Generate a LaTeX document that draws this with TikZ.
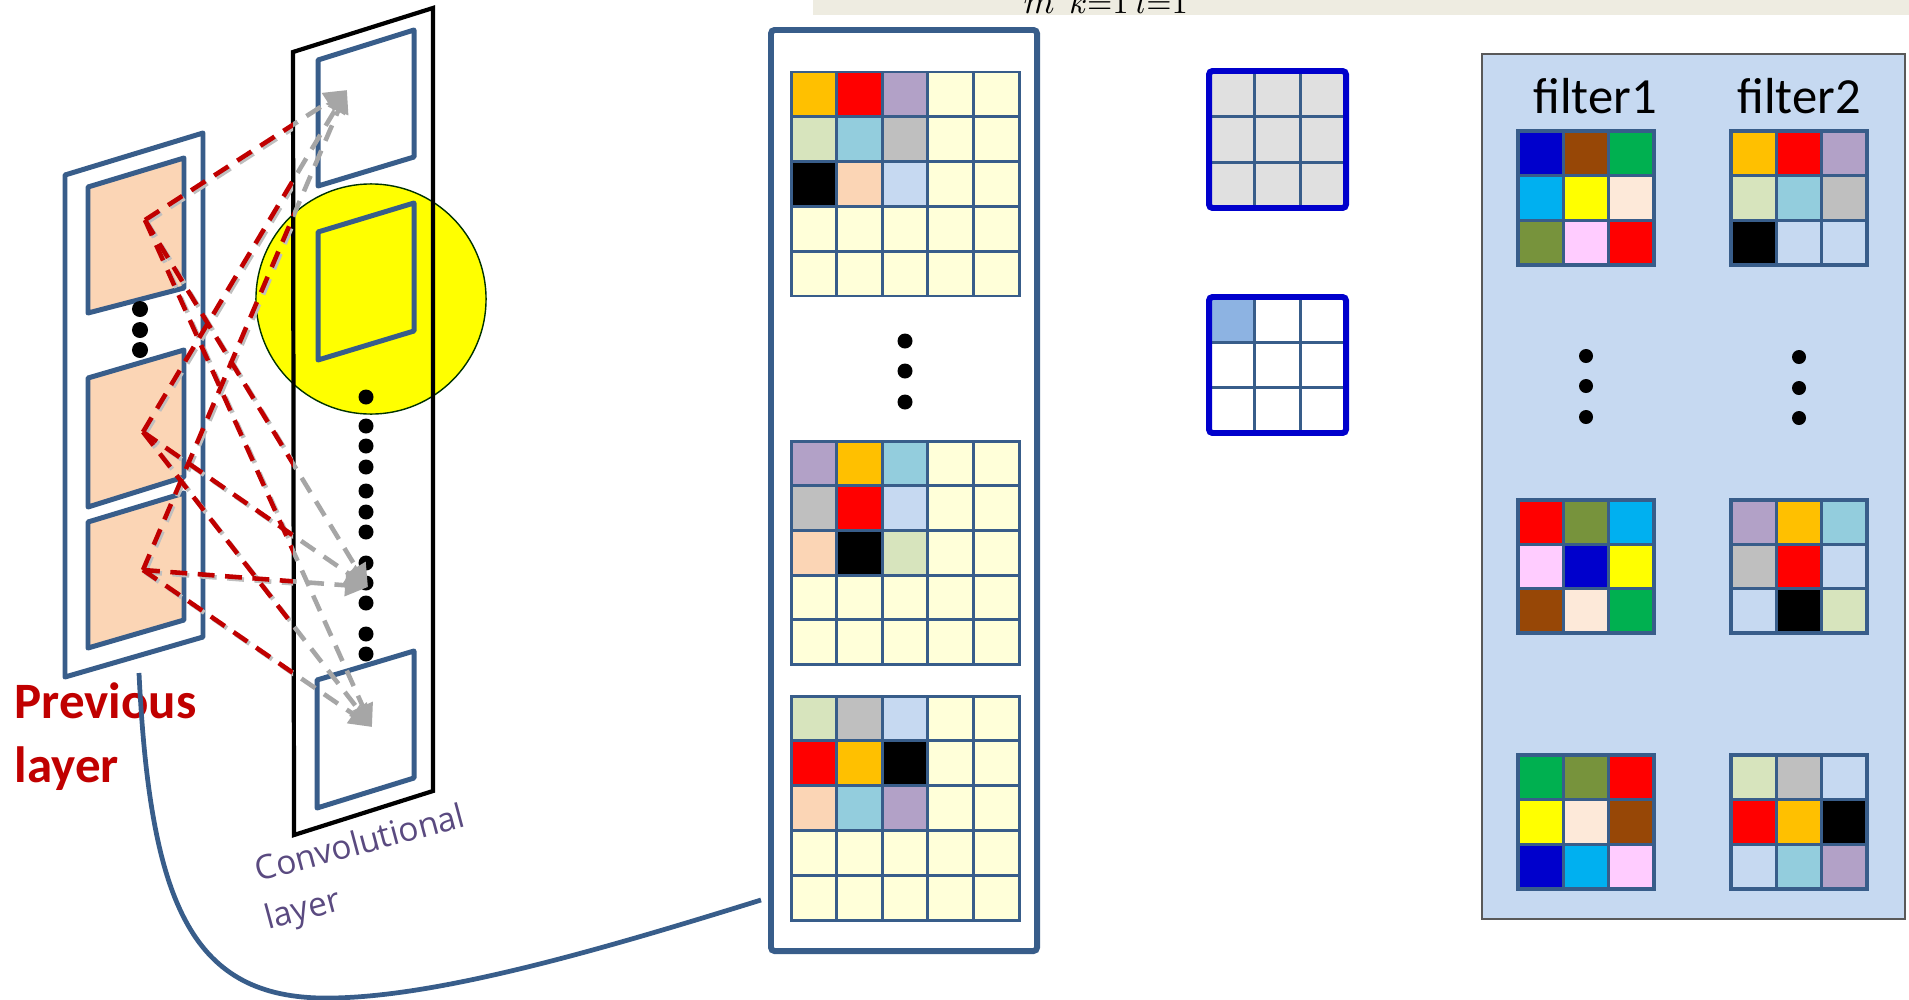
\documentclass[tikz,border=0pt]{standalone}
\usepackage{fontspec}
\newfontfamily\calibri{Carlito}
\newfontfamily\comicf{Open Sans}
\usetikzlibrary{arrows.meta}
\definecolor{fblue}{RGB}{56,93,138}
\definecolor{dred}{RGB}{192,0,0}
\definecolor{agrey}{RGB}{166,166,166}
\definecolor{cOr}{RGB}{255,192,0}
\definecolor{cRd}{RGB}{255,0,0}
\definecolor{cLv}{RGB}{178,161,199}
\definecolor{cLy}{RGB}{255,255,217}
\definecolor{cLg}{RGB}{215,228,189}
\definecolor{cLb}{RGB}{147,205,221}
\definecolor{cGy}{RGB}{191,191,191}
\definecolor{cBk}{RGB}{0,0,0}
\definecolor{cPc}{RGB}{251,213,181}
\definecolor{cSb}{RGB}{198,217,241}
\definecolor{cDb}{RGB}{0,0,204}
\definecolor{cBr}{RGB}{151,71,6}
\definecolor{cGn}{RGB}{0,176,80}
\definecolor{cCy}{RGB}{0,176,240}
\definecolor{cYl}{RGB}{255,255,0}
\definecolor{cFd}{RGB}{253,233,217}
\definecolor{cOl}{RGB}{119,147,60}
\definecolor{cPk}{RGB}{255,204,255}
\definecolor{cKb}{RGB}{141,179,226}
\definecolor{cKg}{RGB}{224,224,224}
\definecolor{cWh}{RGB}{255,255,255}
\definecolor{stripc}{RGB}{238,236,225}
\definecolor{purp}{RGB}{90,74,128}
% x0 y0 ncols nrows cellw cellh colours lineopts
\newcommand\mygrid[8]{%
  \foreach \gc [count=\gi from 0] in {#7} {
    \pgfmathtruncatemacro\gr{\gi/#3}
    \pgfmathtruncatemacro\gq{\gi-\gr*#3}
    \fill[\gc] ({#1+\gq*#5},{#2+\gr*#6}) rectangle ++(#5,#6);
  }
  \foreach \gk in {0,...,#3} \draw[#8] ({#1+\gk*#5},#2) -- ++(0,{#4*#6});
  \foreach \gk in {0,...,#4} \draw[#8] (#1,{#2+\gk*#6}) -- ++({#3*#5},0);
}
\tikzset{
  fb/.style={draw=fblue, line width=1.42pt, line join=round},
  redline/.style={draw=dred, line width=1.3pt, dash pattern=on 4.8pt off 3pt},
  redshadow/.style={draw=black!25, line width=1.3pt, dash pattern=on 4.8pt off 3pt},
  greyline/.style={draw=agrey, line width=1.3pt, dash pattern=on 4.8pt off 3pt, -{Triangle[length=6.5pt,width=6pt]}},
  gline/.style={draw=fblue, line width=0.85pt, line cap=rect},
  fline/.style={draw=fblue, line width=1pt, line cap=rect},
}
\begin{document}
\begin{tikzpicture}[x=0.01cm,y=-0.01cm]
\useasboundingbox (0,0) rectangle (1909,1000);

% ---- top strip with cut formula
\begin{scope}
  \clip (813,0) rectangle (1909,15);
  \fill[stripc] (813,0) rectangle (1909,15);
  \node[anchor=base, inner sep=0, font=\fontsize{10}{12}\selectfont] (fm) at (1039,13) {$m$};
  \node[anchor=base, inner sep=0, font=\fontsize{9}{11}\selectfont] (fk) at (1099,13) {$k{=}1$};
  \node[anchor=base, inner sep=0, font=\fontsize{9}{11}\selectfont] (fl) at (1162,13) {$l{=}1$};
\end{scope}

% ---- previous layer
\draw[fb, fill=white] (65,175) -- (203,133) -- (203,637) -- (65,677) -- cycle;
\draw[fb, fill=cPc] (88,187) -- (184,158) -- (184,288) -- (88,313) -- cycle;
\draw[fb, fill=cPc] (88,378) -- (184,350) -- (184,477) -- (88,507) -- cycle;
\draw[fb, fill=cPc] (88,522) -- (184,493) -- (184,620) -- (88,648) -- cycle;
\foreach \yy in {309,330,350} \fill (140,\yy) circle[radius=0.08cm];

% ---- convolutional layer
\fill[white] (293,52) -- (433,8) -- (433,791) -- (294,835) -- cycle;
\draw[fill=cYl, draw=black!80!green, line width=0.4pt] (371,299) circle[radius=1.15cm];
\draw[black, line width=1.2pt, line join=miter] (293,52) -- (433,8) -- (433,791) -- (294,835) -- cycle;
\draw[fb, fill=white] (318,60) -- (414,30) -- (414,157) -- (318,186) -- cycle;
\draw[fb, fill=cYl] (318,232) -- (414,203) -- (414,331) -- (318,360) -- cycle;
\draw[fb, fill=white] (317,680) -- (414,651) -- (414,778) -- (317,808) -- cycle;
\foreach \yy in {397,426,446,467,491,512,532,563,583,603,634,654} \fill (366,\yy) circle[radius=0.075cm];

% ---- connections
\coordinate (P1) at (145,220);
\coordinate (P2) at (143,432);
\coordinate (P3) at (143,570);
\coordinate (T1) at (347,90);
\coordinate (T2) at (368,587);
\coordinate (T3) at (372,727);
\begin{scope}
  \clip (0,0) rectangle (293,1000);
  \foreach \a in {1,2,3} \foreach \b in {1,2,3} \draw[redshadow, transform canvas={xshift=0.6pt, yshift=-0.6pt}] (P\a) -- (T\b);
  \foreach \a in {1,2,3} \foreach \b in {1,2,3} \draw[redline] (P\a) -- (T\b);
\end{scope}
\begin{scope}
  \clip (293,0) rectangle (1909,1000);
  \foreach \a in {1,2,3} \foreach \b in {1,2,3} \draw[greyline] (P\a) -- (T\b);
\end{scope}

% ---- labels
\node[anchor=base west, inner sep=0, text=dred, font=\calibri\bfseries\fontsize{14.5}{17}\selectfont] (prev1) at (14,718) {Previous};
\node[anchor=base west, inner sep=0, text=dred, font=\calibri\bfseries\fontsize{14.5}{17}\selectfont] (prev2) at (14,782) {layer};
\node[anchor=base west, inner sep=0, rotate=15, text=purp, font=\comicf\fontsize{9.5}{11}\selectfont] (conv1) at (258,882) {Convolutional};
\node[anchor=base west, inner sep=0, rotate=15, text=purp, font=\comicf\fontsize{9.5}{11}\selectfont] (conv2) at (268,930) {layer};

% ---- middle frame with feature maps
\draw[fblue, line width=1.7pt, rounded corners=1pt] (771,30) rectangle (1037,951);
\coordinate (cs) at (139,673);
\coordinate (ce) at (761,900);
\draw[fblue, line width=1.35pt] (cs) .. controls (150,900) and (190,995) .. (320,998) .. controls (430,1000) and (600,950) .. (ce);

\mygrid{791}{72}{5}{5}{45.6}{44.8}{cOr,cRd,cLv,cLy,cLy, cLg,cLb,cGy,cLy,cLy, cBk,cPc,cSb,cLy,cLy, cLy,cLy,cLy,cLy,cLy, cLy,cLy,cLy,cLy,cLy}{gline}
\mygrid{791}{441}{5}{5}{45.6}{44.7}{cLv,cOr,cLb,cLy,cLy, cGy,cRd,cSb,cLy,cLy, cPc,cBk,cLg,cLy,cLy, cLy,cLy,cLy,cLy,cLy, cLy,cLy,cLy,cLy,cLy}{gline}
\mygrid{791}{696}{5}{5}{45.6}{44.8}{cLg,cGy,cSb,cLy,cLy, cRd,cOr,cBk,cLy,cLy, cPc,cLb,cLv,cLy,cLy, cLy,cLy,cLy,cLy,cLy, cLy,cLy,cLy,cLy,cLy}{gline}
\foreach \yy in {341,371,402} \fill (905,\yy) circle[radius=0.075cm];

% ---- small 3x3 grids
\mygrid{1209}{71}{3}{3}{45.6}{45.6}{cKg,cKg,cKg,cKg,cKg,cKg,cKg,cKg,cKg}{gline}
\draw[cDb, line width=1.7pt, rounded corners=1pt] (1209,71) rectangle (1346,208);
\mygrid{1209}{297}{3}{3}{45.6}{45.3}{cKb,cWh,cWh,cWh,cWh,cWh,cWh,cWh,cWh}{gline}
\draw[cDb, line width=1.7pt, rounded corners=1pt] (1209,297) rectangle (1346,433);

% ---- filter panel
\draw[fill=cSb, draw=black!65, line width=0.5pt] (1482,54) rectangle (1905,919);
\node[anchor=base, inner sep=0, font=\calibri\fontsize{14.4}{17}\selectfont] (f1) at (1595,113) {filter1};
\node[anchor=base, inner sep=0, font=\calibri\fontsize{14.4}{17}\selectfont] (f2) at (1799,113) {filter2};
\mygrid{1518}{131}{3}{3}{45.3}{44.7}{cDb,cBr,cGn, cCy,cYl,cFd, cOl,cPk,cRd}{fline}
\mygrid{1518}{500}{3}{3}{45.3}{44.3}{cRd,cOl,cCy, cPk,cDb,cYl, cBr,cFd,cGn}{fline}
\mygrid{1518}{755}{3}{3}{45.3}{44.7}{cGn,cOl,cRd, cYl,cFd,cBr, cDb,cCy,cPk}{fline}
\mygrid{1731}{131}{3}{3}{45.3}{44.7}{cOr,cRd,cLv, cLg,cLb,cGy, cBk,cSb,cSb}{fline}
\mygrid{1731}{500}{3}{3}{45.3}{44.3}{cLv,cOr,cLb, cGy,cRd,cSb, cSb,cBk,cLg}{fline}
\mygrid{1731}{755}{3}{3}{45.3}{44.7}{cLg,cGy,cSb, cRd,cOr,cBk, cSb,cLb,cLv}{fline}
\foreach \yy in {356,386,417} \fill (1586,\yy) circle[radius=0.07cm];
\foreach \yy in {357,388,418} \fill (1799,\yy) circle[radius=0.07cm];
\end{tikzpicture}
\end{document}
